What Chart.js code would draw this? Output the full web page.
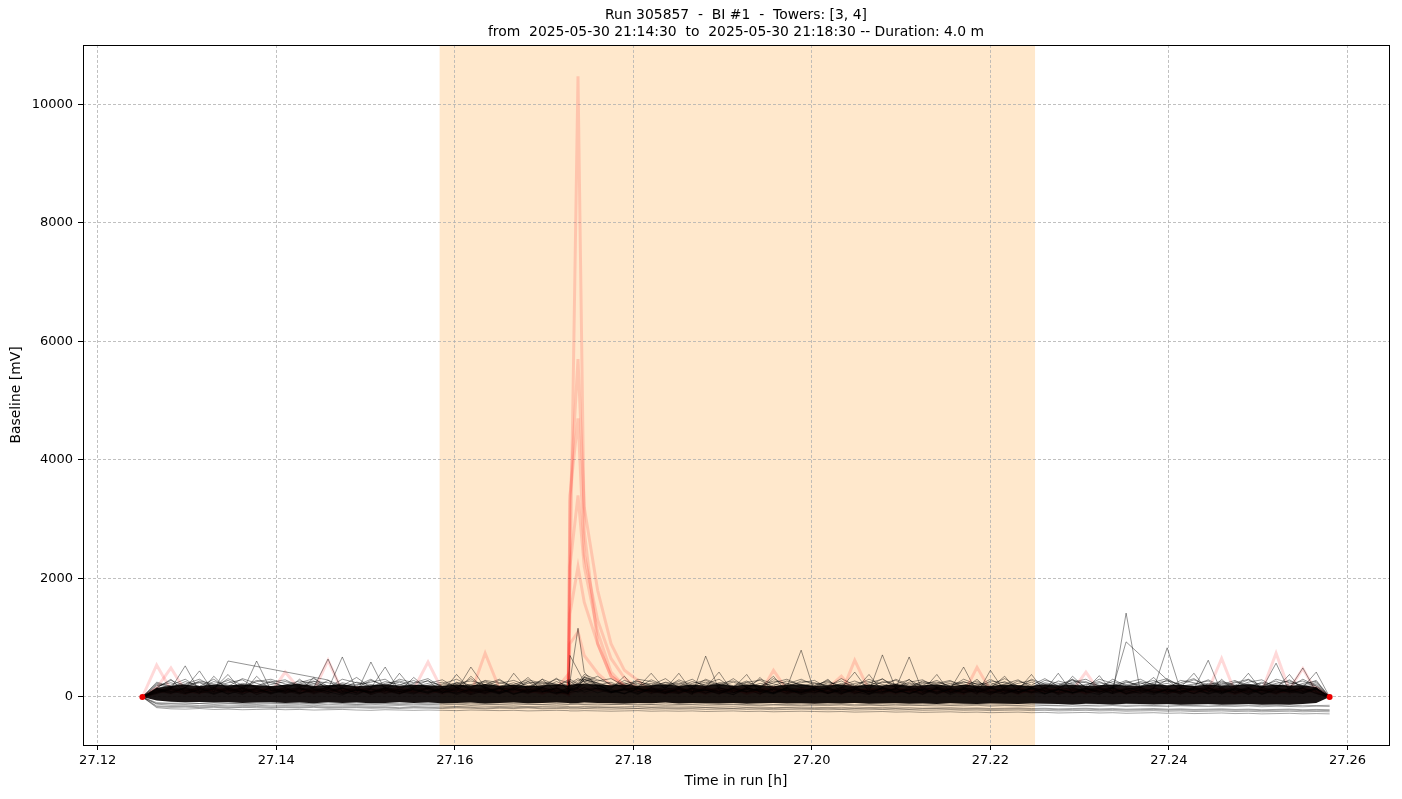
<!DOCTYPE html>
<html>
<head>
<meta charset="utf-8">
<script src="https://cdn.jsdelivr.net/npm/chart.js@4.4.0/dist/chart.umd.min.js"></script>
<style>
html, body { margin: 0; padding: 0; background: #ffffff; }
#wrap { width: 1402px; height: 799px; }
</style>
</head>
<body>
<div id="wrap"><canvas id="c" width="1402" height="799"></canvas></div>
<script>
// ---------------- texts & ticks ----------------
const titleLines = [
  'Run 305857  -  BI #1  -  Towers: [3, 4]',
  'from  2025-05-30 21:14:30  to  2025-05-30 21:18:30 -- Duration: 4.0 m'
];
const xAxisTitle = 'Time in run [h]';
const yAxisTitle = 'Baseline [mV]';
const xTicks = [27.12, 27.14, 27.16, 27.18, 27.20, 27.22, 27.24, 27.26];
const yTicks = [0, 2000, 4000, 6000, 8000, 10000];
const xRange = [27.11835, 27.26465];
const yRange = [-810, 11000];
const spanStart = 27.1583;
const spanEnd = 27.2250;

// ---------------- sample times [h] ----------------
const times = [
  27.1250, 27.1266, 27.1282, 27.1298, 27.1314, 27.1330, 27.1346, 27.1362, 27.1378, 27.1394,
  27.1410, 27.1426, 27.1442, 27.1458, 27.1474, 27.1490, 27.1506, 27.1522, 27.1538, 27.1554,
  27.1570, 27.1586, 27.1602, 27.1618, 27.1634, 27.1650, 27.1666, 27.1682, 27.1698, 27.1714,
  27.1727, 27.1729, 27.1738, 27.1745, 27.1760, 27.1775, 27.1790, 27.1805, 27.1820, 27.1836,
  27.1851, 27.1866, 27.1881, 27.1896, 27.1912, 27.1927, 27.1942, 27.1957, 27.1972, 27.1988,
  27.2003, 27.2018, 27.2033, 27.2048, 27.2064, 27.2079, 27.2094, 27.2109, 27.2124, 27.2140,
  27.2155, 27.2170, 27.2185, 27.2200, 27.2216, 27.2231, 27.2246, 27.2261, 27.2276, 27.2292,
  27.2307, 27.2322, 27.2337, 27.2352, 27.2368, 27.2383, 27.2398, 27.2413, 27.2428, 27.2444,
  27.2459, 27.2474, 27.2489, 27.2504, 27.2520, 27.2535, 27.2550, 27.2565, 27.2580
];

// ---------------- dense core of all channels (envelope) ----------------
const bandTop = [
  0, 150, 190, 205, 185, 210, 195, 215, 200, 185,
  205, 220, 190, 200, 210, 180, 200, 215, 190, 205,
  200, 185, 210, 195, 220, 190, 205, 185, 200, 215,
  195, 205, 225, 220, 210, 200, 210, 190, 200, 215,
  190, 205, 195, 220, 185, 210, 200, 180, 205, 215,
  190, 200, 210, 185, 205, 195, 220, 190, 200, 210,
  185, 205, 195, 185, 210, 200, 190, 215, 195, 205,
  185, 200, 210, 195, 190, 215, 200, 205, 185, 210,
  195, 200, 215, 190, 205, 195, 200, 170, 0
];
const bandBottom = [
  0, -60, -80, -90, -85, -95, -90, -100, -95, -90,
  -100, -95, -105, -90, -100, -95, -105, -100, -90, -100,
  -95, -105, -100, -95, -110, -100, -95, -105, -100, -95,
  -100, -105, -100, -95, -100, -105, -110, -100, -105, -95,
  -110, -100, -105, -110, -100, -115, -105, -100, -110, -105,
  -115, -105, -110, -100, -115, -110, -105, -115, -110, -120,
  -105, -115, -120, -110, -115, -120, -110, -115, -120, -125,
  -115, -120, -125, -115, -120, -125, -120, -130, -125, -120,
  -130, -125, -120, -130, -125, -130, -120, -100, 0
];

// ---------------- drifting low channels ----------------
const low1 = [
  0, -150, -160, -155, -165, -160, -170, -165, -160, -170,
  -165, -170, -160, -175, -170, -165, -175, -170, -180, -170,
  -175, -180, -170, -175, -185, -175, -180, -170, -185, -180,
  -175, -180, -180, -185, -175, -180, -185, -190, -180, -185,
  -190, -185, -180, -190, -195, -185, -190, -195, -185, -190,
  -195, -190, -200, -195, -190, -200, -195, -205, -200, -195,
  -200, -205, -200, -210, -205, -200, -210, -205, -215, -210,
  -205, -215, -210, -220, -215, -210, -220, -215, -225, -220,
  -215, -225, -220, -230, -225, -220, -230, -225, -230
];
const low2 = [
  0, -180, -200, -205, -195, -210, -205, -215, -210, -205,
  -215, -210, -220, -215, -210, -220, -225, -215, -220, -225,
  -220, -225, -230, -220, -225, -230, -225, -235, -230, -225,
  -230, -235, -235, -230, -235, -240, -235, -230, -240, -235,
  -240, -235, -245, -240, -235, -245, -240, -250, -245, -240,
  -245, -250, -245, -255, -250, -245, -255, -250, -260, -255,
  -250, -260, -255, -265, -260, -255, -265, -260, -270, -265,
  -260, -270, -265, -275, -270, -265, -275, -270, -280, -275,
  -270, -280, -275, -285, -280, -275, -285, -280, -285
];
const low3 = [
  0, -120, -140, -135, -145, -140, -150, -145, -140, -150,
  -145, -150, -140, -155, -150, -145, -155, -150, -145, -155,
  -150, -155, -160, -150, -155, -160, -155, -165, -160, -155,
  -160, -165, -165, -160, -165, -170, -165, -160, -170, -165,
  -170, -165, -175, -170, -165, -175, -170, -180, -175, -170,
  -175, -180, -175, -185, -180, -175, -185, -180, -190, -185,
  -180, -190, -185, -195, -190, -185, -195, -190, -200, -195,
  -190, -200, -195, -205, -200, -195, -205, -200, -210, -205,
  -200, -210, -205, -215, -210, -205, -215, -210, -215
];
const low4 = [
  0, -110, -115, -120, -110, -125, -115, -120, -125, -115,
  -120, -125, -115, -130, -120, -125, -130, -120, -125, -130,
  -125, -130, -120, -135, -125, -130, -135, -125, -130, -135,
  -130, -125, -125, -130, -135, -130, -125, -135, -130, -140,
  -135, -130, -140, -135, -130, -140, -145, -135, -140, -145,
  -140, -145, -135, -150, -140, -145, -150, -140, -145, -150,
  -145, -150, -140, -155, -145, -150, -155, -145, -150, -155,
  -150, -155, -145, -160, -150, -155, -160, -150, -155, -160,
  -155, -160, -150, -165, -155, -160, -165, -155, -160
];
const low5 = [
  0, -95, -105, -100, -110, -100, -105, -115, -105, -100,
  -110, -105, -115, -100, -110, -120, -105, -110, -115, -105,
  -115, -110, -120, -105, -115, -120, -110, -115, -125, -110,
  -120, -115, -110, -120, -115, -125, -115, -120, -125, -115,
  -125, -120, -115, -125, -120, -130, -120, -125, -130, -120,
  -130, -125, -120, -130, -125, -135, -125, -130, -135, -125,
  -135, -130, -125, -135, -130, -140, -130, -135, -140, -130,
  -140, -135, -130, -140, -135, -145, -135, -140, -145, -135,
  -145, -140, -135, -145, -140, -150, -140, -145, -140
];
const low6 = [
  0, -165, -175, -170, -180, -175, -185, -175, -180, -185,
  -180, -185, -175, -190, -185, -180, -190, -185, -195, -185,
  -190, -195, -185, -190, -200, -190, -195, -185, -200, -195,
  -195, -200, -200, -195, -200, -205, -200, -195, -205, -200,
  -205, -200, -210, -205, -200, -210, -205, -215, -210, -205,
  -210, -215, -210, -220, -215, -210, -220, -215, -225, -220,
  -215, -225, -220, -230, -225, -220, -230, -225, -235, -230,
  -225, -235, -230, -240, -235, -230, -240, -235, -245, -240,
  -235, -245, -240, -250, -245, -240, -250, -245, -250
];

// ---------------- black channels ----------------
const blk1 = [
  0, 80, 140, 525, 90, 60, 120, 40, 150, 70,
  110, 50, 160, 90, 30, 140, 80, 120, 60, 170,
  280, 70, 130, 40, 110, 150, 60, 90, 140, 50,
  120, 80, 100, 160, 70, 130, 50, 140, 90, 60,
  150, 40, 690, 120, 70, 160, 90, 50, 130, 80,
  140, 60, 110, 170, 50, 90, 130, 300, 70, 150,
  40, 120, 80, 160, 60, 140, 90, 50, 130, 70,
  110, 150, 60, 1415, 90, 40, 130, 80, 160, 60,
  120, 70, 140, 50, 110, 90, 150, 60, 0
];
const blk2 = [
  0, 110, 60, 150, 440, 80, 607, null, null, null,
  null, null, null, 287, 100, 160, 40, 120, 90, 150,
  150, 60, 250, 110, 70, 140, 50, 130, 90, 160,
  60, 110, 140, 80, 150, 70, 120, 40, 160, 90,
  130, 60, 150, 90, 40, 140, 110, 70, 160, 790,
  80, 130, 50, 150, 90, 60, 140, 110, 40, 160,
  120, 70, 150, 90, 50, 130, 80, 160, 60, 140,
  90, 40, 150, 930, null, null, 290, 120, 60, 150,
  80, 130, 50, 160, 90, 120, 70, 140, 0
];
const blk3 = [
  0, 60, 120, 90, 150, 40, 130, 80, 607, 110,
  140, 70, 100, 160, 50, 120, 90, 150, 60, 130,
  80, 150, 40, 120, 160, 70, 110, 260, 90, 140,
  50, 130, 80, 120, 150, 90, 60, 140, 110, 70,
  160, 90, 120, 50, 140, 80, 130, 70, 150, 40,
  110, 160, 60, 120, 90, 710, 140, 50, 130, 80,
  150, 70, 110, 40, 160, 90, 130, 60, 140, 300,
  70, 120, 160, 50, 90, 140, 830, 110, 60, 150,
  90, 130, 40, 120, 160, 70, 110, 140, 0
];
const blk4 = [
  0, 140, 90, 60, 130, 160, 50, 110, 80, 150,
  70, 120, 160, 640, 90, 40, 140, 60, 130, 100,
  150, 90, 60, 140, 110, 50, 160, 80, 120, 70,
  90, 260, 1160, 420, 160, 80, 130, 60, 140, 100,
  100, 150, 70, 120, 40, 160, 90, 130, 60, 110,
  150, 70, 130, 90, 40, 160, 110, 60, 140, 80,
  120, 160, 50, 450, 90, 130, 70, 150, 40, 110,
  140, 80, 160, 60, 120, 90, 50, 150, 130, 620,
  70, 110, 160, 40, 130, 90, 150, 60, 0
];
const blk5 = [
  0, 90, 150, 60, 110, 140, 80, 160, 40, 120,
  90, 150, 60, 130, 675, 110, 70, 140, 90, 50,
  160, 110, 70, 130, 90, 150, 40, 120, 160, 80,
  60, 700, 450, 250, 130, 70, 150, 90, 120, 80,
  60, 140, 100, 160, 80, 130, 50, 150, 110, 70,
  140, 90, 160, 60, 120, 80, 150, 675, 90, 130,
  60, 150, 110, 70, 140, 90, 160, 50, 120, 80,
  150, 100, 60, 130, 160, 80, 120, 90, 140, 50,
  110, 160, 70, 130, 570, 90, 60, 150, 0
];
const blk6 = [
  0, 120, 70, 160, 90, 130, 50, 140, 110, 80,
  160, 60, 130, 90, 150, 70, 590, 110, 50, 140,
  90, 130, 160, 60, 120, 80, 140, 330, 100, 60,
  150, 110, 140, 230, 180, 90, 140, 60, 120, 160,
  80, 130, 60, 150, 110, 90, 140, 60, 160, 120,
  70, 140, 90, 130, 60, 150, 80, 120, 160, 50,
  130, 505, 70, 140, 110, 60, 160, 90, 130, 70,
  150, 60, 120, 90, 160, 70, 130, 50, 140, 110,
  60, 150, 90, 120, 70, 140, 490, 80, 0
];
const blk7 = [
  0, 70, 130, 110, 160, 60, 150, 90, 130, 50,
  120, 160, 80, 140, 60, 110, 150, 505, 90, 130,
  60, 140, 110, 505, 160, 90, 130, 60, 150, 110,
  80, 140, 160, 300, 200, 110, 60, 150, 90, 130,
  160, 70, 120, 90, 150, 380, 60, 130, 110, 80,
  150, 60, 120, 140, 90, 160, 70, 130, 50, 140,
  90, 130, 160, 60, 120, 80, 150, 110, 400, 70,
  130, 160, 90, 120, 60, 150, 100, 70, 130, 160,
  50, 140, 110, 80, 150, 120, 60, 130, 0
];
const blk8 = [
  0, 130, 90, 150, 60, 350, 110, 140, 70, 160,
  90, 300, 130, 60, 150, 110, 80, 160, 120, 70,
  140, 90, 380, 110, 60, 150, 130, 80, 160, 320,
  110, 140, 220, 330, 210, 90, 130, 160, 400, 120,
  70, 150, 110, 60, 140, 90, 160, 350, 80, 130,
  110, 60, 150, 420, 90, 130, 70, 160, 110, 60,
  140, 90, 130, 160, 70, 120, 380, 90, 140, 60,
  130, 360, 80, 150, 110, 60, 140, 90, 160, 120,
  80, 140, 400, 110, 60, 150, 90, 130, 0
];
const blk9 = [
  0, 150, 300, 70, 130, 90, 160, 60, 350, 110,
  60, 140, 110, 160, 80, 130, 60, 150, 100, 330,
  120, 70, 150, 90, 140, 60, 400, 110, 80, 150,
  90, 130, 170, 240, 190, 140, 350, 90, 150, 60,
  130, 90, 160, 420, 70, 140, 110, 60, 150, 90,
  160, 300, 80, 130, 60, 150, 90, 140, 110, 380,
  70, 130, 90, 150, 350, 80, 140, 60, 120, 160,
  90, 140, 60, 130, 160, 330, 80, 150, 110, 70,
  300, 90, 150, 60, 130, 110, 160, 420, 0
];
const blk10 = [
  0, 100, 160, 120, 70, 140, 380, 90, 150, 60,
  130, 80, 330, 110, 150, 60, 130, 90, 400, 110,
  70, 150, 90, 350, 130, 60, 140, 110, 300, 80,
  150, 120, 160, 350, 230, 80, 120, 150, 60, 140,
  400, 90, 130, 70, 150, 110, 330, 90, 140, 60,
  130, 150, 70, 110, 380, 90, 140, 60, 130, 160,
  80, 140, 300, 90, 130, 60, 150, 110, 70, 350,
  140, 90, 150, 60, 130, 110, 80, 160, 400, 90,
  150, 60, 130, 110, 140, 380, 90, 150, 0
];
const blk11 = [
  0, 210, 150, 260, 180, 300, 140, 230, 190, 270,
  160, 240, 310, 180, 220, 150, 280, 200, 250, 170,
  230, 290, 160, 210, 270, 180, 240, 150, 300, 200,
  260, 180, 240, 380, 290, 220, 170, 260, 200, 310,
  150, 230, 280, 190, 250, 170, 300, 220, 160, 270,
  240, 180, 310, 200, 150, 260, 220, 290, 170, 230,
  280, 160, 240, 200, 310, 180, 250, 150, 270, 210,
  190, 300, 230, 170, 260, 210, 150, 280, 240, 180,
  250, 200, 290, 160, 230, 270, 180, 240, 0
];
const blk12 = [
  0, 160, 280, 190, 240, 150, 310, 200, 170, 250,
  290, 180, 220, 160, 300, 240, 170, 260, 210, 150,
  200, 250, 170, 310, 150, 230, 280, 190, 160, 260,
  180, 230, 310, 260, 350, 200, 240, 160, 290, 190,
  260, 170, 220, 300, 150, 240, 190, 270, 230, 160,
  190, 280, 150, 230, 260, 170, 300, 200, 250, 180,
  230, 190, 270, 150, 220, 290, 160, 240, 200, 300,
  170, 240, 190, 280, 160, 250, 310, 180, 220, 270,
  150, 260, 200, 230, 180, 290, 160, 210, 0
];
const blk13 = [
  0, 250, 180, 220, 300, 170, 240, 290, 150, 210,
  260, 200, 150, 280, 190, 330, 160, 230, 270, 200,
  170, 220, 300, 180, 250, 160, 210, 290, 230, 180,
  290, 160, 200, 330, 270, 310, 190, 230, 170, 250,
  210, 300, 160, 240, 190, 270, 150, 310, 200, 240,
  280, 150, 230, 190, 300, 210, 170, 250, 290, 160,
  200, 260, 180, 300, 170, 230, 280, 190, 150, 250,
  300, 180, 260, 210, 240, 160, 290, 200, 170, 230,
  210, 280, 160, 250, 200, 170, 300, 190, 0
];
const blk14 = [
  0, 190, 240, 160, 270, 220, 180, 310, 230, 160,
  200, 270, 230, 190, 160, 250, 210, 180, 300, 240,
  310, 160, 240, 200, 180, 280, 170, 230, 260, 190,
  220, 270, 180, 290, 240, 160, 280, 200, 230, 160,
  290, 200, 250, 170, 310, 160, 230, 190, 270, 210,
  160, 240, 200, 270, 180, 310, 150, 230, 200, 280,
  170, 300, 210, 240, 160, 270, 200, 310, 180, 230,
  260, 150, 300, 190, 220, 280, 170, 240, 310, 160,
  230, 170, 250, 290, 160, 220, 270, 180, 0
];
const blk15 = [
  0, 140, 200, 300, 150, 260, 200, 170, 280, 240,
  180, 220, 270, 150, 240, 190, 300, 160, 200, 280,
  150, 200, 230, 270, 210, 300, 150, 180, 240, 220,
  170, 300, 220, 270, 200, 250, 150, 300, 260, 180,
  230, 160, 300, 210, 180, 250, 280, 160, 220, 300,
  200, 260, 180, 150, 240, 300, 190, 160, 270, 210,
  260, 220, 150, 270, 240, 190, 160, 280, 230, 170,
  210, 260, 170, 240, 300, 190, 230, 160, 200, 290,
  180, 240, 300, 190, 270, 150, 230, 260, 0
];
const blk16 = [
  0, 230, 170, 210, 250, 190, 280, 150, 260, 300,
  220, 170, 260, 240, 180, 210, 250, 300, 150, 230,
  270, 180, 210, 150, 280, 240, 190, 260, 200, 300,
  240, 200, 280, 300, 230, 180, 220, 270, 190, 240,
  180, 260, 200, 230, 270, 200, 170, 240, 300, 190,
  230, 200, 270, 160, 210, 240, 280, 170, 230, 250,
  190, 250, 220, 180, 260, 150, 300, 220, 190, 280,
  240, 200, 150, 260, 190, 230, 270, 210, 290, 200,
  270, 190, 220, 160, 300, 240, 200, 280, 0
];

// ---------------- red channels ----------------
const red1 = [
  0, 540, 120, 60, 150, 90, 130, 70, 110, 160,
  80, 140, 100, 620, 90, 150, 60, 130, 110, 70,
  150, 90, 130, 60, 740, 140, 100, 70, 150, 90,
  120, 60, 110, 150, 130, 80, 140, 90, 160, 70,
  110, 150, 60, 130, 90, 140, 70, 160, 100, 120,
  60, 150, 350, 90, 130, 70, 140, 110, 60, 150,
  90, 130, 60, 160, 110, 70, 140, 90, 150, 60,
  130, 100, 160, 70, 120, 90, 150, 60, 140, 110,
  650, 80, 150, 100, 60, 140, 110, 90, 0
];
const red2 = [
  0, 150, 490, 100, 70, 140, 110, 160, 60, 130,
  90, 150, 60, 120, 140, 80, 160, 100, 70, 130,
  590, 110, 80, 140, 60, 130, 150, 90, 120, 60,
  140, 80, 120, 70, 110, 150, 60, 130, 90, 150,
  70, 120, 160, 90, 140, 60, 110, 150, 80, 130,
  150, 90, 60, 620, 110, 140, 80, 130, 160, 70,
  120, 60, 500, 110, 70, 150, 90, 140, 60, 130,
  90, 150, 110, 60, 140, 80, 120, 160, 70, 100,
  140, 60, 120, 90, 740, 110, 150, 70, 0
];
const red3 = [
  0, 90, 140, 60, 120, 150, 80, 130, 100, 70,
  420, 130, 90, 150, 60, 110, 140, 80, 160, 90,
  60, 120, 150, 90, 130, 70, 110, 160, 80, 140,
  380, 100, 150, 130, 120, 90, 140, 70, 120, 60,
  150, 90, 130, 70, 110, 160, 60, 450, 120, 80,
  130, 70, 150, 90, 60, 140, 110, 80, 160, 100,
  70, 140, 90, 130, 160, 60, 120, 80, 150, 110,
  420, 90, 140, 60, 130, 160, 80, 110, 70, 150,
  100, 60, 140, 120, 80, 130, 480, 90, 0
];
const spike1 = [
  0, 90, 130, 60, 150, 110, 70, 140, 90, 120,
  160, 80, 110, 140, 60, 130, 90, 150, 70, 110,
  140, 60, 120, 90, 160, 80, 130, 70, 150, 100,
  60, 1800, 10470, 2800, 900, 350, 200, 130, 80, 110,
  150, 100, 70, 140, 90, 160, 60, 120, 110, 80,
  130, 70, 150, 90, 120, 60, 140, 100, 160, 80,
  110, 150, 70, 130, 90, 160, 60, 120, 80, 140,
  60, 130, 100, 150, 80, 120, 90, 160, 70, 110,
  140, 80, 120, 60, 150, 100, 130, 70, 0
];
const spike2 = [
  0, 120, 70, 150, 100, 60, 140, 90, 130, 80,
  110, 150, 70, 130, 90, 160, 60, 120, 140, 80,
  90, 140, 110, 60, 130, 150, 80, 120, 70, 160,
  50, 3300, 5700, 3200, 1800, 900, 450, 280, 90, 120,
  70, 130, 160, 80, 120, 60, 150, 90, 140, 100,
  160, 90, 130, 70, 140, 110, 60, 150, 90, 120,
  80, 140, 110, 60, 150, 90, 130, 70, 160, 100,
  120, 70, 150, 90, 60, 140, 110, 80, 130, 150,
  90, 160, 70, 130, 110, 60, 140, 100, 0
];
const spike3 = [
  0, 70, 150, 110, 80, 130, 90, 160, 60, 140,
  100, 70, 150, 90, 130, 60, 120, 80, 160, 110,
  60, 130, 90, 150, 70, 110, 160, 90, 130, 60,
  80, 3400, 4700, 2400, 1300, 650, 320, 150, 140, 70,
  120, 80, 150, 60, 130, 90, 110, 160, 70, 140,
  90, 150, 60, 130, 100, 160, 70, 120, 80, 150,
  130, 70, 160, 90, 120, 60, 140, 100, 80, 150,
  70, 150, 90, 130, 160, 60, 120, 80, 150, 90,
  130, 60, 150, 80, 120, 90, 70, 140, 0
];
const spike4 = [
  0, 140, 90, 130, 60, 150, 110, 70, 160, 100,
  130, 60, 120, 80, 150, 100, 70, 140, 90, 160,
  110, 80, 140, 60, 120, 90, 150, 100, 70, 130,
  40, 2200, 3400, 2200, 1100, 420, 180, 110, 150, 90,
  90, 140, 60, 120, 160, 70, 130, 90, 150, 60,
  120, 80, 140, 60, 150, 90, 130, 70, 110, 160,
  100, 60, 140, 120, 70, 150, 90, 130, 110, 60,
  150, 90, 130, 70, 110, 160, 60, 140, 90, 120,
  70, 130, 90, 150, 60, 120, 100, 160, 0
];
const spike5 = [
  0, 110, 60, 140, 90, 120, 160, 80, 130, 70,
  150, 90, 130, 60, 110, 150, 80, 120, 70, 140,
  130, 70, 160, 100, 90, 140, 60, 150, 110, 80,
  70, 1400, 2200, 1600, 900, 350, 160, 140, 70, 120,
  130, 70, 110, 150, 60, 140, 90, 120, 60, 150,
  80, 130, 110, 160, 70, 120, 90, 150, 60, 130,
  150, 90, 120, 70, 140, 110, 80, 160, 90, 130,
  80, 140, 60, 120, 150, 90, 130, 70, 160, 60,
  110, 150, 90, 140, 70, 130, 80, 120, 0
];
const spike6 = [
  0, 60, 130, 90, 150, 70, 140, 110, 80, 160,
  70, 130, 90, 150, 120, 80, 140, 60, 130, 90,
  150, 110, 60, 130, 80, 160, 90, 140, 60, 120,
  60, 900, 1100, 700, 400, 200, 120, 150, 110, 80,
  140, 60, 130, 90, 150, 80, 120, 140, 90, 70,
  110, 140, 70, 150, 80, 130, 160, 90, 140, 60,
  140, 80, 150, 60, 130, 90, 120, 150, 70, 110,
  60, 150, 80, 140, 90, 130, 70, 120, 100, 150,
  130, 90, 60, 140, 110, 80, 150, 120, 0
];

// ---------------- styles ----------------
const FONT = 'DejaVu Sans';
const blackLine = 'rgba(0,0,0,0.42)';
const lowLine = 'rgba(0,0,0,0.35)';
const redLine = 'rgba(255,0,0,0.15)';

function pts(vals) {
  return vals.map((v, i) => ({ x: times[i], y: v }));
}

const bottomToTop = [];
[red1, red2, red3, spike1, spike2, spike3, spike4, spike5, spike6].forEach((s, k) =>
  bottomToTop.push({ label: 'red' + k, data: pts(s), borderColor: redLine, borderWidth: 3, fill: false }));
bottomToTop.push({ label: 'bandBottom', data: pts(bandBottom), borderWidth: 0, borderColor: 'rgba(0,0,0,0)', fill: false });
bottomToTop.push({ label: 'bandTop', data: pts(bandTop), borderWidth: 0, borderColor: 'rgba(0,0,0,0)', backgroundColor: 'rgba(5,0,0,0.92)', fill: '-1' });
[low1, low2, low3, low4, low5, low6].forEach((s, k) =>
  bottomToTop.push({ label: 'low' + k, data: pts(s), borderColor: lowLine, borderWidth: 1, fill: false }));
[blk1, blk2, blk3, blk4, blk5, blk6, blk7, blk8, blk9, blk10, blk11, blk12, blk13, blk14, blk15, blk16].forEach((s, k) =>
  bottomToTop.push({ label: 'blk' + k, data: pts(s), borderColor: blackLine, borderWidth: 1, fill: false, spanGaps: true }));
// red dots at the first and last sample of the red channel
bottomToTop.push({
  label: 'ends', data: [{ x: times[0], y: red1[0] }, { x: times[times.length - 1], y: red1[red1.length - 1] }],
  showLine: false, pointRadius: 3, pointBackgroundColor: 'rgb(235,0,0)', pointBorderWidth: 0, borderColor: 'rgba(0,0,0,0)'
});

const N = bottomToTop.length;
bottomToTop.forEach((d, i) => { d.order = N - i; d.tension = 0; if (d.pointRadius === undefined) d.pointRadius = 0; });

const spanPlugin = {
  id: 'spanAndBg',
  beforeDraw(chart) {
    const { ctx, chartArea, scales } = chart;
    ctx.save();
    ctx.fillStyle = '#ffffff';
    ctx.fillRect(0, 0, chart.width, chart.height);
    const x1 = scales.x.getPixelForValue(spanStart);
    const x2 = scales.x.getPixelForValue(spanEnd);
    ctx.fillStyle = 'rgba(255,140,0,0.2)';
    ctx.fillRect(x1, chartArea.top, x2 - x1, chartArea.bottom - chartArea.top);
    ctx.restore();
  }
};
const framePlugin = {
  id: 'frame',
  afterDatasetsDraw(chart) {
    const { ctx, chartArea } = chart;
    ctx.save();
    ctx.strokeStyle = '#000000';
    ctx.lineWidth = 1;
    ctx.strokeRect(Math.round(chartArea.left) + 0.5, Math.round(chartArea.top) + 0.5,
      Math.round(chartArea.right - chartArea.left), Math.round(chartArea.bottom - chartArea.top));
    ctx.restore();
  }
};

new Chart(document.getElementById('c'), {
  type: 'line',
  data: { datasets: bottomToTop },
  plugins: [spanPlugin, framePlugin],
  options: {
    responsive: false,
    animation: false,
    devicePixelRatio: 1,
    layout: { padding: { left: 0, right: 13, top: 0, bottom: 0 } },
    plugins: {
      legend: { display: false },
      tooltip: { enabled: false },
      title: {
        display: true, text: titleLines, fullSize: false, color: '#000000',
        font: { family: FONT, size: 13.9, weight: 'normal', lineHeight: 1.2 },
        padding: { top: 7, bottom: 4.6 }
      }
    },
    scales: {
      x: {
        type: 'linear', min: xRange[0], max: xRange[1],
        afterBuildTicks: (s) => { s.ticks = xTicks.map(v => ({ value: v })); },
        afterFit: (s) => { s.height = 54; },
        ticks: { callback: (v) => Number(v).toFixed(2), color: '#000000', font: { family: FONT, size: 13 }, padding: 3, maxRotation: 0, autoSkip: false },
        grid: { color: '#b0b0b0', lineWidth: 0.8, tickColor: '#000000', tickLength: 5, tickWidth: 1 },
        border: { display: false, dash: [3, 2] },
        title: { display: true, text: xAxisTitle, color: '#000000', font: { family: FONT, size: 13.9 }, padding: { top: 0, bottom: 9 } }
      },
      y: {
        type: 'linear', min: yRange[0], max: yRange[1],
        afterBuildTicks: (s) => { s.ticks = yTicks.map(v => ({ value: v })); },
        afterFit: (s) => { s.width = 83; },
        ticks: { callback: (v) => String(v), color: '#000000', font: { family: FONT, size: 13 }, padding: 5, autoSkip: false },
        grid: { color: '#b0b0b0', lineWidth: 0.8, tickColor: '#000000', tickLength: 5, tickWidth: 1 },
        border: { display: false, dash: [3, 2] },
        title: { display: true, text: yAxisTitle, color: '#000000', font: { family: FONT, size: 13.9 }, padding: { top: 8, bottom: 0 } }
      }
    }
  }
});
</script>
</body>
</html>
